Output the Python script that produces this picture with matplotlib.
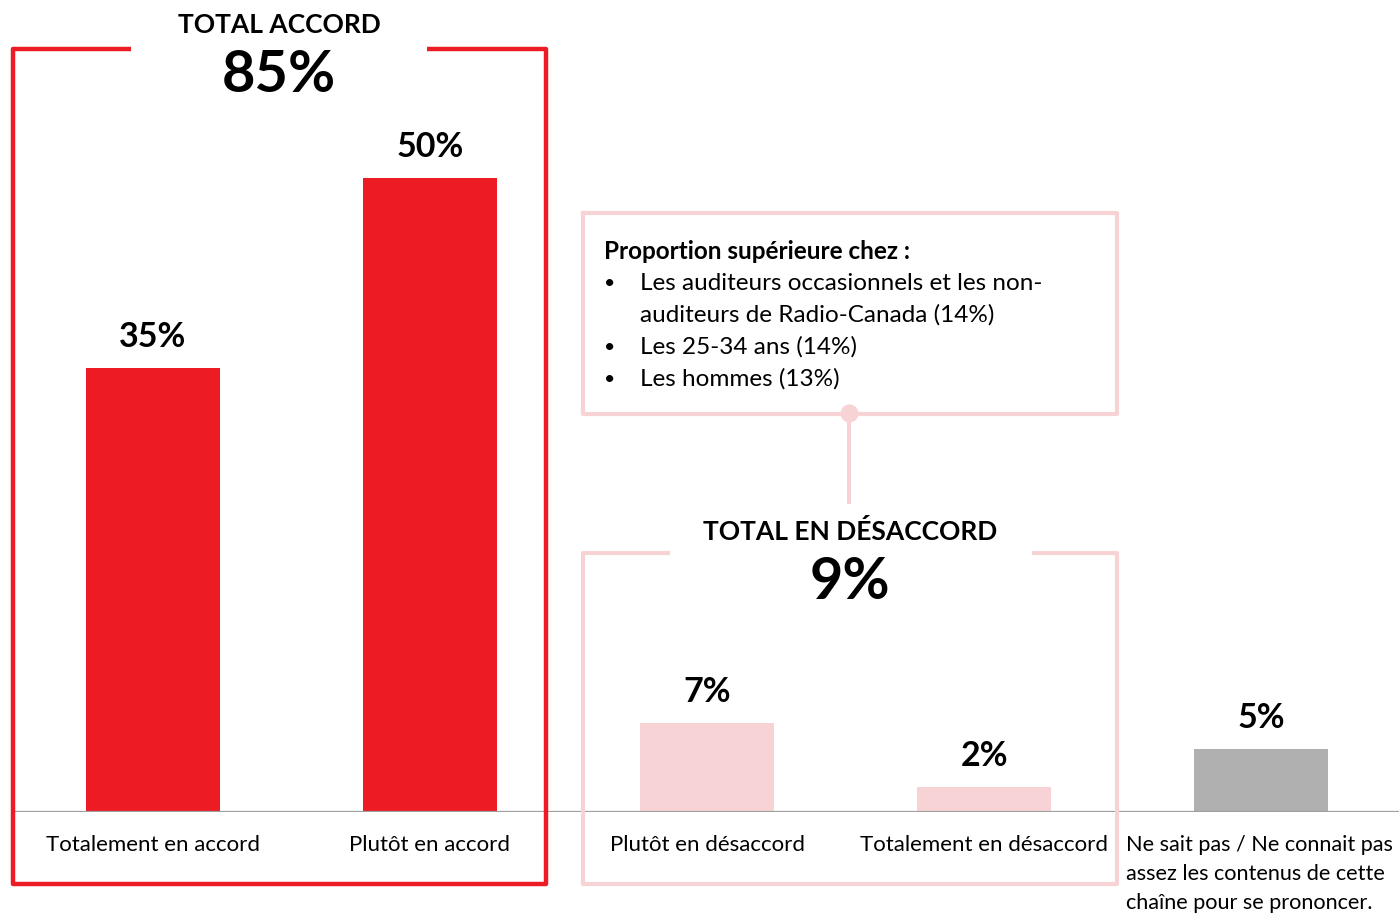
import matplotlib
matplotlib.use("Agg")
import matplotlib.pyplot as plt
from matplotlib.lines import Line2D

plt.rcParams['font.family'] = ['Lato', 'DejaVu Sans']

categories = [
    "Totalement en accord",
    "Plutôt en accord",
    "Plutôt en désaccord",
    "Totalement en désaccord",
    "Ne sait pas / Ne connait pas\nassez les contenus de cette\nchaîne pour se prononcer.",
]
values = [35, 50, 7, 2, 5]
value_labels = ["35%", "50%", "7%", "2%", "5%"]

total_accord_title = "TOTAL ACCORD"
total_accord_value = "85%"
total_desaccord_title = "TOTAL EN DÉSACCORD"
total_desaccord_value = "9%"

callout_title = "Proportion supérieure chez :"
callout_items = [
    "Les auditeurs occasionnels et les non-\nauditeurs de Radio-Canada (14%)",
    "Les 25-34 ans (14%)",
    "Les hommes (13%)",
]

RED = "#ED1C24"
PINK = "#F8D3D5"
GREY = "#B0B0B0"
bar_colors = [RED, RED, PINK, PINK, GREY]

W, H = 1399, 913
fig = plt.figure(figsize=(W / 100, H / 100), dpi=100)
fig.patch.set_facecolor("white")


def fx(px):
    return px / W


def fy(py):
    return 1 - py / H


# main bar axes: baseline at y=812 px
ax = fig.add_axes([fx(14), fy(812), fx(1400) - fx(14), fy(0) - fy(812)])
x = list(range(len(categories)))
ax.bar(x, values, width=0.483, color=bar_colors, zorder=2)
ax.set_xlim(-0.5, 4.5)
ax.set_ylim(0, 812 / 12.68)
ax.axis("off")
ax.axhline(0, color="#A0A0A0", lw=1.6, zorder=3)

for xi, v, lab in zip(x, values, value_labels):
    ax.annotate(lab, (xi, v), xytext=(0, 15), textcoords="offset points",
                ha="center", va="baseline", fontsize=24.5, fontweight="bold",
                color="black")

# category labels below the baseline
for xi, lab in zip(x[:4], categories[:4]):
    ax.annotate(lab, (xi, 0), xytext=(0, -24), textcoords="offset points",
                ha="center", va="center", fontsize=16, color="black")
for i, part in enumerate(categories[4].split("\n")):
    fig.text(fx(1126), fy(845 + 29 * i), part, ha="left", va="center",
             fontsize=15.6, color="black")


def bracket(x0, x1, y0, y1, gap0, gap1, color, lw):
    xs = [gap0, x0, x0, x1, x1, gap1]
    ys = [y0, y0, y1, y1, y0, y0]
    fig.add_artist(Line2D([fx(v) for v in xs], [fy(v) for v in ys],
                          transform=fig.transFigure, color=color, lw=lw,
                          solid_joinstyle="round", solid_capstyle="butt",
                          zorder=1))


# group brackets
bracket(13, 546, 49, 884, 131, 427, RED, 3.2)
bracket(583, 1117, 553, 884, 670, 1032, PINK, 3.0)

fig.text(fx(279), fy(25), total_accord_title, ha="center", va="center",
         fontsize=19, fontweight="bold")
fig.text(fx(279), fy(76), total_accord_value, ha="center", va="center",
         fontsize=41.5, fontweight="bold")
fig.text(fx(850), fy(531), total_desaccord_title, ha="center", va="center",
         fontsize=19, fontweight="bold")
fig.text(fx(850), fy(582), total_desaccord_value, ha="center", va="center",
         fontsize=41.5, fontweight="bold")

# callout box
cx0, cx1, cy0, cy1 = 583, 1117, 213, 414
fig.add_artist(Line2D([fx(cx0), fx(cx1), fx(cx1), fx(cx0), fx(cx0)],
                      [fy(cy0), fy(cy0), fy(cy1), fy(cy1), fy(cy0)],
                      transform=fig.transFigure, color=PINK, lw=3.0,
                      solid_joinstyle="round"))
fig.add_artist(Line2D([fx(849), fx(849)], [fy(414), fy(502)],
                      transform=fig.transFigure, color=PINK, lw=3.0))
fig.add_artist(Line2D([fx(849)], [fy(413)], transform=fig.transFigure,
                      marker="o", markersize=12, color=PINK, lw=0))

fig.text(fx(604), fy(251), callout_title, ha="left", va="center",
         fontsize=17.5, fontweight="bold")
line_y = 283
for item in callout_items:
    fig.text(fx(604), fy(line_y), "•", ha="left", va="center", fontsize=14)
    for part in item.split("\n"):
        fig.text(fx(640), fy(line_y), part, ha="left", va="center",
                 fontsize=17.5)
        line_y += 32

fig.savefig("out.png", dpi=100, facecolor="white")
